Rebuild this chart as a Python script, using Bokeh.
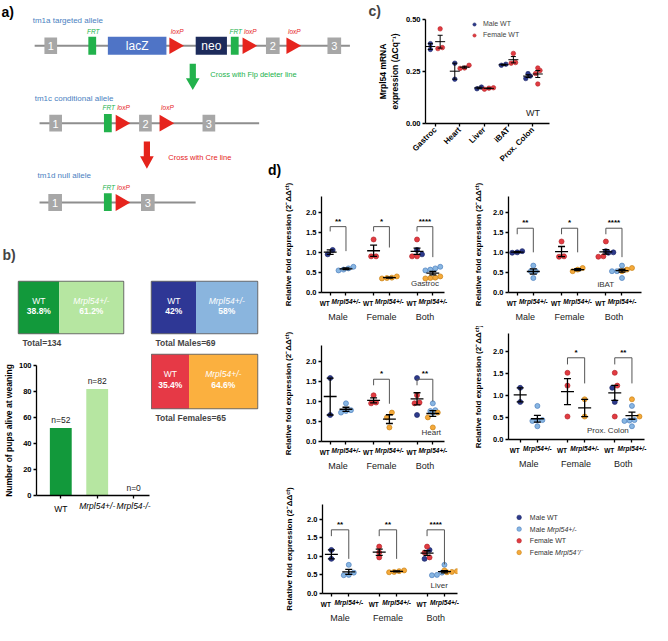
import math
import numpy as np
from bokeh.plotting import figure
from bokeh.models import (Range1d, FixedTicker, PrintfTickFormatter, Title,
                          Legend, LegendItem, LinearAxis)
from bokeh.layouts import row, column
from bokeh.embed import file_html
from bokeh.resources import INLINE
from bokeh.core.properties import value

FONT = "Liberation Sans"

# ------------------------------------------------------------------ data
# panel b
b_genotypes = ["WT", "Mrpl54+/-", "Mrpl54-/-"]
b_pups_alive = [52, 82, 0]
b_total_pct = [38.8, 61.2]
b_male_pct = [42, 58]
b_female_pct = [35.4, 64.6]
b_total_n = 134
b_males_n = 69
b_females_n = 65

# panel c  (Mrpl54 mRNA expression, WT)
c_tissues = ["Gastroc", "Heart", "Liver", "iBAT", "Prox. Colon"]
c_male_wt = [[0.384, 0.356], [0.290, 0.213], [0.167, 0.175], [0.280, 0.285],
             [0.240, 0.228, 0.216]]
c_female_wt = [[0.455, 0.365, 0.360], [0.280, 0.267, 0.265], [0.170, 0.172, 0.165],
               [0.337, 0.293, 0.290], [0.267, 0.255, 0.240, 0.190]]

# panel d  (relative fold expression)
d_tissues = ["Gastroc", "iBAT", "Heart", "Prox. Colon", "Liver"]
d_male_wt = [[1.06, 0.95], [0.99, 1.00, 1.03], [1.58, 0.66], [1.17, 0.85], [1.17, 0.93]]
d_male_het = [[0.55, 0.57, 0.60, 0.64], [0.67, 0.53, 0.53, 0.36], [0.95, 0.78, 0.76, 0.72],
              [0.76, 0.43, 0.42, 0.44, 0.30], [0.77, 0.56, 0.49, 0.50]]
d_female_wt = [[1.32, 0.90, 0.90], [1.27, 0.90, 0.89], [1.15, 0.95, 0.97],
               [1.51, 1.22, 0.52], [1.26, 1.10, 0.97]]
d_female_het = [[0.40, 0.36, 0.35, 0.37], [0.53, 0.61, 0.57], [0.72, 0.60, 0.35],
                [0.91, 0.52], [0.62, 0.58, 0.57, 0.60]]
d_sig = [["**", "*", "****"], ["**", "*", "****"], ["", "*", "**"],
         ["", "*", "**"], ["**", "**", "****"]]
d_groups = ["Male", "Female", "Both"]
d_ticklabels = ["WT", "Mrpl54+/-"]
d_legend = [("Male WT", ""), ("Male ", "Mrpl54+/-"), ("Female WT", ""), ("Female ", "Mrpl54\u207a/\u207b")]

# ------------------------------------------------------------------ styles / layout
NAVY, NAVY_L = "#2d3a8c", "#1f2968"
LBLUE, LBLUE_L = "#88b6e2", "#4d7fbf"
RED, RED_L = "#e23b41", "#b5262c"
ORANGE, ORANGE_L = "#f5a93a", "#c98316"
FILL = {"mwt": NAVY, "mhet": LBLUE, "fwt": RED, "fhet": ORANGE}
LINE = {"mwt": NAVY_L, "mhet": LBLUE_L, "fwt": RED_L, "fhet": ORANGE_L}

SX = 652 / 668
SY = 625 / 641


def PX(v):
    return int(round(v * SX))


def PY(v):
    return int(round(v * SY))


def mkfig(box, frame=None, xr=None, yr=None, axes=True):
    x0, x1, y0, y1 = box
    if frame is None:
        frame = box
    fx0, fx1, fy0, fy1 = frame
    kw = dict(width=PX(x1) - PX(x0), height=PY(y1) - PY(y0), x_range=xr, y_range=yr,
              toolbar_location=None, tools="", output_backend="svg",
              min_border_left=PX(fx0) - PX(x0), min_border_right=PX(x1) - PX(fx1),
              min_border_top=PY(fy0) - PY(y0), min_border_bottom=PY(y1) - PY(fy1))
    if not axes:
        kw.update(x_axis_location=None, y_axis_location=None)
    p = figure(**kw)
    p.outline_line_color = None
    p.grid.visible = False
    p.background_fill_color = "white"
    p.border_fill_color = "white"
    return p


def iso(f):
    return column(f)


def style_axis(ax, size="7.5px", style="bold"):
    ax.axis_line_width = 1.3
    ax.axis_line_color = "black"
    ax.major_tick_line_width = 1.3
    ax.major_tick_line_color = "black"
    ax.major_tick_out = 3
    ax.major_tick_in = 0
    ax.minor_tick_line_color = None
    ax.major_label_text_font = FONT
    ax.major_label_text_font_style = style
    ax.major_label_text_font_size = size
    ax.major_label_text_color = "black"
    ax.major_label_standoff = 2
    ax.axis_label_text_font = FONT
    ax.axis_label_text_font_style = "bold"
    ax.axis_label_text_font_size = "8px"
    ax.axis_label_text_color = "black"
    ax.axis_label_standoff = 3


def label_axis(ticks, overrides, size, style, standoff, color="black"):
    ax = LinearAxis(ticker=FixedTicker(ticks=ticks), major_label_overrides=overrides)
    ax.axis_line_color = None
    ax.major_tick_line_color = None
    ax.minor_tick_line_color = None
    ax.major_tick_out = 0
    ax.major_tick_in = 0
    ax.major_label_text_font = FONT
    ax.major_label_text_font_size = size
    ax.major_label_text_font_style = style
    ax.major_label_text_color = color
    ax.major_label_standoff = standoff
    return ax


def txt(p, x, y, t, size="8px", color="black", style="normal", align="center", baseline="middle"):
    xs = x if isinstance(x, list) else [x]
    ys = y if isinstance(y, list) else [y]
    ts = t if isinstance(t, list) else [t]
    p.text(x=xs, y=ys, text=ts, text_font=value(FONT), text_font_size=size, text_color=color,
           text_font_style=style, text_align=align, text_baseline=baseline)


def swarm(vals, ppx, ppy, dpx=5.0):
    vals = np.asarray(vals, float)
    order = np.argsort(vals)
    offs = np.zeros(len(vals))
    bins, cur = [], [order[0]]
    for i in order[1:]:
        if (vals[i] - vals[cur[0]]) * ppy < dpx:
            cur.append(i)
        else:
            bins.append(cur)
            cur = [i]
    bins.append(cur)
    for b in bins:
        m = len(b)
        for j, idx in enumerate(b):
            offs[idx] = (j - (m - 1) / 2) * dpx / ppx
    return offs


def errbars(p, xs, means, sems, hw, cw, width=1.3):
    x0, x1, y0, y1 = [], [], [], []
    for x, m, s in zip(xs, means, sems):
        x0 += [x - hw, x, x - cw, x - cw]
        x1 += [x + hw, x, x + cw, x + cw]
        y0 += [m, m - s, m - s, m + s]
        y1 += [m, m + s, m - s, m + s]
    p.segment(x0=x0, y0=y0, x1=x1, y1=y1, line_color="black", line_width=width)


# ------------------------------------------------------------------ panel a (schematic)
ALLELES = [
    dict(name="tm1a targeted allele", name_xy=(33, 21), y=46.5, line=(35, 358), part="top",
         exons=[(45, 58, "1"), (272, 286, "2"), (335, 349, "3")],
         frt=[(90, 98), (236, 244)], loxp=[173, 248, 293],
         cassettes=[(110, 170, "lacZ", "#4f74c6"), (200, 232, "neo", "#1d2b5b")], lab_y=32),
    dict(name="tm1c conditional allele", name_xy=(35, 101), y=126, line=(40, 265), part="top",
         exons=[(50, 63, "1"), (142, 155, "2"), (207, 220, "3")],
         frt=[(106, 114)], loxp=[118, 163], cassettes=[], lab_y=110),
    dict(name="tm1d null allele", name_xy=(38, 180), y=207, line=(40, 200), part="bot",
         exons=[(49, 63, "1"), (144, 158, "3")],
         frt=[(106, 114)], loxp=[118], cassettes=[], lab_y=192),
]
ARROWS = [
    dict(x=197, y0=65, y1=92, hl=12, color="#22b24c", text="Cross with Flp deleter line", tx=215, ty=76),
    dict(x=150, y0=145, y1=173, hl=13, color="#e5231b", text="Cross with Cre line", tx=172, ty=161),
]
A_LINE, A_EXON, A_FRT, A_LOX, A_TITLE = "#8e8e8e", "#a7a7a7", "#22b24c", "#e6241d", "#4a7fc1"


def draw_allele(p, al):
    y = al["y"]
    p.line(x=list(al["line"]), y=[y, y], line_color=A_LINE, line_width=2)
    ex = al["exons"]
    p.quad(left=[e[0] for e in ex], right=[e[1] for e in ex], bottom=[y + 8.5] * len(ex),
           top=[y - 8.5] * len(ex), fill_color=A_EXON, line_color=None)
    txt(p, [(e[0] + e[1]) / 2 for e in ex], [y + 0.5] * len(ex), [e[2] for e in ex], "11px", "white")
    fr = al["frt"]
    p.quad(left=[f[0] for f in fr], right=[f[1] for f in fr], bottom=[y + 9.3] * len(fr),
           top=[y - 9.3] * len(fr), fill_color=A_FRT, line_color=None)
    txt(p, [(f[0] + f[1]) / 2 + 1 for f in fr], [al["lab_y"]] * len(fr), ["FRT"] * len(fr),
        "6.5px", A_FRT, "italic")
    lx = al["loxp"]
    p.patches(xs=[[x, x, x + 15] for x in lx], ys=[[y - 8.5, y + 8.5, y] for x in lx],
              fill_color=A_LOX, line_color=None)
    txt(p, [x + 8 for x in lx], [al["lab_y"]] * len(lx), ["loxP"] * len(lx), "6.5px", A_LOX, "italic")
    for c in al["cassettes"]:
        p.quad(left=[c[0]], right=[c[1]], bottom=[y + 9.3], top=[y - 9.3], fill_color=c[3], line_color=None)
        txt(p, (c[0] + c[1]) / 2, y + 0.5, c[2], "12px", "white")


pa_top = mkfig((0, 375, 0, 187), xr=Range1d(0, 375), yr=Range1d(187, 0), axes=False)
pa_bot = mkfig((0, 288, 187, 216), xr=Range1d(0, 288), yr=Range1d(216, 187), axes=False)
for al in ALLELES:
    draw_allele(pa_top if al["part"] == "top" else pa_bot, al)
    txt(pa_top, al["name_xy"][0], al["name_xy"][1], al["name"], "8px", A_TITLE, align="left")
for ar in ARROWS:
    cx, y0, y1, hl = ar["x"], ar["y0"], ar["y1"], ar["hl"]
    sw, hw = 3.2, 7
    pa_top.patch(x=[cx - sw, cx + sw, cx + sw, cx + hw, cx, cx - hw, cx - sw],
                 y=[y0, y0, y1 - hl, y1 - hl, y1, y1 - hl, y1 - hl], fill_color=ar["color"], line_color=None)
    txt(pa_top, ar["tx"], ar["ty"], ar["text"], "7.5px", ar["color"], align="left")
txt(pa_top, 1, 12, "a)", "14px", "black", "bold", align="left")
txt(pa_top, 274, 174, "d)", "14px", "black", "bold", align="left")

# ------------------------------------------------------------------ panel c
pc = mkfig((375, 668, 0, 187), (435, 562, 18, 126), Range1d(0.6, 5.68), Range1d(0, 0.5))
pc.title.text = "c)"
pc.title.align = "left"
pc.title.offset = PX(377) - PX(435)
pc.title.standoff = 1
pc.title.text_font = FONT
pc.title.text_font_size = "14px"
pc.title.text_font_style = "bold"
c_ppx = (PX(562) - PX(435)) / 5.08
c_ppy = (PY(126) - PY(18)) / 0.5
c_off = 0.2
mx, my, fx, fy = [], [], [], []
pos_all, means, sems = [], [], []
for i, t in enumerate(c_tissues):
    for vals, side, X, Y in ((c_male_wt[i], -1, mx, my), (c_female_wt[i], 1, fx, fy)):
        base = i + 1 + side * c_off
        o = swarm(vals, c_ppx, c_ppy, 4.5)
        X += list(base + o)
        Y += list(vals)
        pos_all.append(base)
        means.append(float(np.mean(vals)))
        sems.append(float(np.std(vals, ddof=1) / np.sqrt(len(vals))))
rm = pc.scatter(mx, my, size=4.5, fill_color=NAVY, line_color=NAVY_L, line_width=0.6)
rf = pc.scatter(fx, fy, size=4.5, fill_color=RED, line_color=RED_L, line_width=0.6)
errbars(pc, pos_all, means, sems, 5 / c_ppx, 2.5 / c_ppx, 1.0)
style_axis(pc.xaxis[0], "8px")
style_axis(pc.yaxis[0], "7.5px")
pc.xaxis.ticker = FixedTicker(ticks=[1, 2, 3, 4, 5])
pc.xaxis.major_label_overrides = {i + 1: t for i, t in enumerate(c_tissues)}
pc.xaxis.major_label_orientation = math.pi / 4
pc.yaxis.ticker = FixedTicker(ticks=[0, 0.25, 0.5])
pc.yaxis.formatter = PrintfTickFormatter(format="%.2f")
pc.yaxis.axis_label = "Mrpl54 mRNA\nexpression (\u0394Cq\u207b\u00b9)"
pc.yaxis.axis_label_text_font_size = "8.5px"
txt(pc, 5.0, 0.05, "WT", "9px", "#222")
leg = Legend(items=[LegendItem(label="Male WT", renderers=[rm]),
                    LegendItem(label="Female WT", renderers=[rf])],
             location=(PX(482) - PX(435), PY(126) - PY(41)))
leg.label_text_font = FONT
leg.label_text_font_size = "7px"
leg.label_text_color = "#444"
leg.glyph_width = 8
leg.glyph_height = 8
leg.label_height = 11
leg.label_standoff = 5
leg.spacing = 0
leg.padding = 0
leg.margin = 0
leg.border_line_color = None
leg.background_fill_alpha = 0
pc.add_layout(leg)


# ------------------------------------------------------------------ panel b
def box_fig(box, frame, pct, colors, total_text, letter=None):
    p = mkfig(box, frame, Range1d(0, 100), Range1d(0, 1), axes=False)
    p.outline_line_color = "#6e6e6e"
    p.outline_line_width = 1.5
    p.quad(left=[0, pct[0]], right=[pct[0], 100], bottom=[0, 0], top=[1, 1],
           fill_color=colors, line_color=None)
    txt(p, pct[0] / 2, 0.63, "WT", "8.5px", "white")
    txt(p, pct[0] / 2, 0.43, f"{pct[0]:g}%", "8.5px", "white", "bold")
    txt(p, (pct[0] + 100) / 2, 0.63, "Mrpl54+/-", "8.5px", "white", "italic")
    txt(p, (pct[0] + 100) / 2, 0.43, f"{pct[1]:g}%", "8.5px", "white", "bold")
    p.add_layout(Title(text=total_text, align="left", offset=4, standoff=5, text_font=FONT,
                       text_font_size="8.5px", text_font_style="bold"), "below")
    if letter:
        p.title.text = letter
        p.title.align = "left"
        p.title.offset = -16
        p.title.standoff = 38
        p.title.text_font = FONT
        p.title.text_font_size = "14px"
        p.title.text_font_style = "bold"
    return p


b_tot = box_fig((0, 140, 216, 360), (18, 126, 288, 342), b_total_pct, ["#12993b", "#b6e6a1"],
                f"Total={b_total_n}", "b)")
b_mal = box_fig((140, 288, 216, 360), (155, 263, 288, 342), b_male_pct, ["#2e3795", "#8ab5de"],
                f"Total Males={b_males_n}")
b_fem = box_fig((155, 288, 360, 641), (155, 263, 363, 418), b_female_pct, ["#e63946", "#fbb03f"],
                f"Total Females={b_females_n}")

b_bar = mkfig((0, 155, 360, 641), (32, 153, 374, 508), Range1d(0.333, 3.436), Range1d(0, 100))
b_ppy = (PY(508) - PY(374)) / 100
b_bar.vbar(x=[1, 2, 3], top=b_pups_alive, width=0.6, fill_color=["#12993b", "#b6e6a1", "#b6e6a1"],
           line_color=None)
txt(b_bar, [1, 2, 3], [v + 2.5 / b_ppy for v in b_pups_alive], [f"n={v}" for v in b_pups_alive],
    "8.5px", "#222", baseline="bottom")
style_axis(b_bar.xaxis[0], "8.5px", "italic")
style_axis(b_bar.yaxis[0], "7.5px")
b_bar.xaxis.ticker = FixedTicker(ticks=[1, 2, 3])
b_bar.xaxis.major_label_overrides = {1: "", 2: b_genotypes[1], 3: b_genotypes[2]}
b_bar.add_layout(label_axis([1, 2, 3], {1: b_genotypes[0], 2: "", 3: ""}, "8.5px", "normal", -10), "below")
b_bar.yaxis.ticker = FixedTicker(ticks=[0, 20, 40, 60, 80, 100])
b_bar.yaxis.axis_label = "Number of pups alive at weaning"
b_bar.yaxis.axis_label_text_font_size = "8.5px"
b_bar.yaxis.axis_label_standoff = 2

# ------------------------------------------------------------------ panel d
D_POS = [1, 2, 3.75, 4.75, 6.5, 7.5]
GROUP_POS = [1.5, 4.25, 7.0]
YLAB_D = "Relative fold expression (2\u207b\u0394\u0394\u1d9c\u1d57)"
D_LAYOUT = [
    dict(box=(288, 480, 187, 334), frame=(328, 455, 201, 299), xr=(0.45, 8.24), yr=(0, 2.39),
         lab=(7.0, 0.22), br=(1.64, 1.52, [1.03, 1.12, 0.88]), std=10),
    dict(box=(480, 668, 187, 334), frame=(520, 657, 201, 299), xr=(0.46, 8.71), yr=(0, 2.39),
         lab=(6.5, 0.2), br=(1.60, 1.45, [1.00, 1.00, 0.88]), std=7),
    dict(box=(288, 480, 334, 488), frame=(328, 455, 354, 452), xr=(0.45, 8.24), yr=(0, 2.39),
         lab=(7.4, 0.22), br=(1.55, 1.40, [None, 0.94, 1.0]), std=10),
    dict(box=(480, 668, 334, 488), frame=(520, 660, 342, 450), xr=(0.32, 8.23), yr=(0, 2.4),
         lab=(6.1, 0.2), br=(1.85, 1.70, [None, 1.27, 1.27]), std=7),
    dict(box=(288, 480, 488, 641), frame=(330, 468, 517, 615), xr=(0.49, 8.25), yr=(0, 2.39),
         lab=(7.2, 0.22), br=(1.71, 1.54, [0.93, 0.93, 0.78]), std=10),
]
WT_LABEL_SHIFT = 5.5  # px the "WT" tick labels sit left of their tick (crowded axis)


def draw_d(k):
    L = D_LAYOUT[k]
    p = mkfig(L["box"], L["frame"], Range1d(*L["xr"]), Range1d(*L["yr"]))
    fx0, fx1, fy0, fy1 = L["frame"]
    ppx = (PX(fx1) - PX(fx0)) / (L["xr"][1] - L["xr"][0])
    ppy = (PY(fy1) - PY(fy0)) / (L["yr"][1] - L["yr"][0])
    mwt = [(v, "mwt") for v in d_male_wt[k]]
    mhet = [(v, "mhet") for v in d_male_het[k]]
    fwt = [(v, "fwt") for v in d_female_wt[k]]
    fhet = [(v, "fhet") for v in d_female_het[k]]
    groups = [mwt, mhet, fwt, fhet, mwt + fwt, mhet + fhet]
    xs, ys, fc, lc, means, sems = [], [], [], [], [], []
    for pos, pts in zip(D_POS, groups):
        vals = [v for v, _ in pts]
        offs = swarm(vals, ppx, ppy, 5.0)
        for (v, c), o in zip(pts, offs):
            xs.append(pos + o)
            ys.append(v)
            fc.append(FILL[c])
            lc.append(LINE[c])
        means.append(float(np.mean(vals)))
        sems.append(float(np.std(vals, ddof=1) / np.sqrt(len(vals))))
    p.scatter(xs, ys, size=5, fill_color=fc, line_color=lc, line_width=0.7)
    errbars(p, D_POS, means, sems, 6.5 / ppx, 3.5 / ppx, 1.3)
    top, lb, rbs = L["br"]
    bxs, bys, sx, sy, st = [], [], [], [], []
    for g in range(3):
        s = d_sig[k][g]
        if not s:
            continue
        xl, xr_ = D_POS[2 * g], D_POS[2 * g + 1]
        bxs.append([xl, xl, xr_, xr_])
        bys.append([lb, top, top, rbs[g]])
        sx.append((xl + xr_) / 2)
        sy.append(top + 1.0 / ppy)
        st.append(s)
    p.multi_line(xs=bxs, ys=bys, line_color="#555555", line_width=1)
    txt(p, sx, sy, st, "8px", "black", "bold", baseline="bottom")
    txt(p, L["lab"][0], L["lab"][1], d_tissues[k], "8px", "#333")
    style_axis(p.xaxis[0], "6.5px", "bold italic")
    style_axis(p.yaxis[0], "7.5px")
    p.yaxis.ticker = FixedTicker(ticks=[0, 0.5, 1, 1.5, 2])
    p.yaxis.formatter = PrintfTickFormatter(format="%.1f")
    p.yaxis.axis_label = YLAB_D
    p.yaxis.axis_label_standoff = L["std"]
    p.xaxis.ticker = FixedTicker(ticks=D_POS)
    p.xaxis.major_label_overrides = {D_POS[i]: ("" if i % 2 == 0 else d_ticklabels[1]) for i in range(6)}
    wt_ticks = [round(D_POS[i] - WT_LABEL_SHIFT / ppx, 4) for i in range(0, 6, 2)]
    p.add_layout(label_axis(wt_ticks, {t: d_ticklabels[0] for t in wt_ticks}, "6.5px", "bold", -8), "below")
    p.add_layout(label_axis(GROUP_POS, {GROUP_POS[i]: d_groups[i] for i in range(3)},
                            "9px", "normal", 2, "#222"), "below")
    return p


dps = [draw_d(k) for k in range(5)]

# legend panel for d
pl = mkfig((480, 668, 488, 641), xr=Range1d(480, 668), yr=Range1d(641, 488), axes=False)
AW = {"M": .833, "a": .556, "l": .222, "e": .556, " ": .278, "F": .611, "m": .833}
LEG_X, LEG_TX, LEG_Y0, LEG_DY, LEG_FS = 531, 542, 530, 12, 7
leg_keys = ["mwt", "mhet", "fwt", "fhet"]
pl.scatter([LEG_X] * 4, [LEG_Y0 + i * LEG_DY for i in range(4)], size=4.5,
           fill_color=[FILL[c] for c in leg_keys], line_color=[LINE[c] for c in leg_keys], line_width=0.6)
for i, (a, b) in enumerate(d_legend):
    yy = LEG_Y0 + i * LEG_DY
    txt(pl, LEG_TX, yy, a, f"{LEG_FS}px", "#333", align="left")
    if b:
        w = sum(AW.get(ch, 0.55) for ch in a) * LEG_FS / SX
        txt(pl, LEG_TX + w, yy, b, f"{LEG_FS}px", "#333", "italic", align="left")

# ------------------------------------------------------------------ layout
top = row(iso(pa_top), iso(pc))
left_b = column(iso(pa_bot), row(iso(b_tot), iso(b_mal)), row(iso(b_bar), iso(b_fem)))
right_d = column(row(iso(dps[0]), iso(dps[1])), row(iso(dps[2]), iso(dps[3])), row(iso(dps[4]), iso(pl)))
layout = column(top, row(left_b, right_d))

open("out.html", "w").write(file_html(layout, INLINE))
